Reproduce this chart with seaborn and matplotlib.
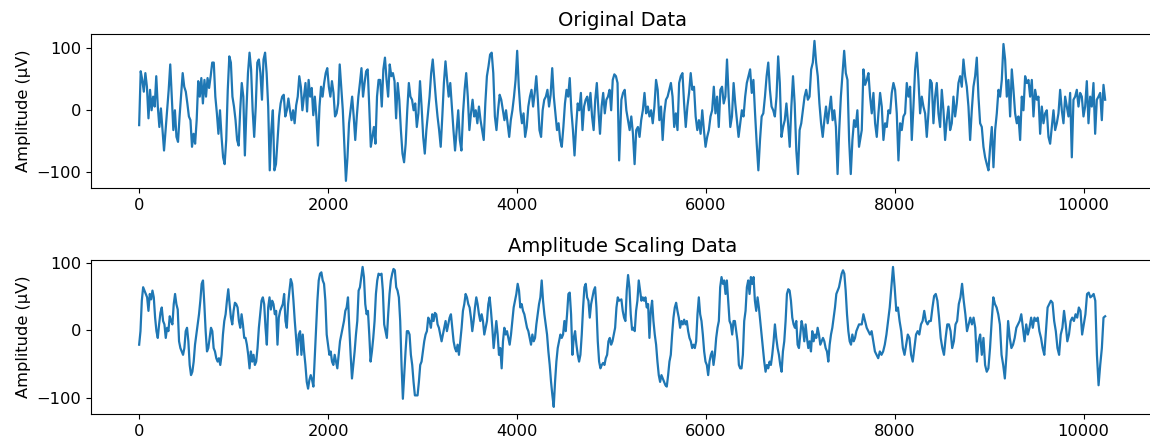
import numpy as np
import matplotlib
matplotlib.use("Agg")
import matplotlib.pyplot as plt
import seaborn as sns

# -----------------------------
# DATA (in four stretches per trace)
# -----------------------------
# sample range covered by each stretch
SEG_SPANS = [(0, 2535), (2552, 5082), (5106, 7622), (7651, 10228)]

TITLES = ["Original Data", "Amplitude Scaling Data"]
Y_LABEL = "Amplitude (µV)"

orig_seg1 = [-24, 63, 49, 30, 60, 38, -13, 33, 0, 22, 6, 55, 6, -27, 3, -32, -65, -32, 0, 33,
             74, 22, -32, 0, -43, -51, -10, 25, 60, 38, 30, 11, -10, -16, -59, -38, -54, -16, 47, 22,
             52, 11, 49, 22, 52, 36, 55, 77, 77, 22, -5, -38, 0, -43, -76, -87, -48, 33, 87, 77,
             22, 6, -16, -48, -57, 0, 44, 22, -73, 0, 60, 93, 66, 0, -43, 6, 77, 82, 60, 17,
             82, 93, 60, 6, -97, -32, 0, -97, -87, -48, -10, 11, 22, 25, -10, 0, 19, 0, -16, 0,
             -21, 8, 22, 55, 38, 0, 22, 44, -2, 49, 22, 36, -8, 22, -10, -57, 6, 38, 22, 44,
             60, 68, 38, 22, 47, 28, -10, -5, 11, 74, 36, 0, -59, -114, -76, -21, 0, 22, -10, -48,
             -10, 22, 44, 68, 22, 44, 63, 66, 6, -59, -43, -27, -54, 22, 49]

orig_seg2 = [49, 6, 66, 85, 49, 22, 74, 55, 60, 47, -13, 44, 17, -32, -70, -84, -54, 0, 44, 22,
             17, 0, 11, -27, -5, 47, 6, -43, -70, -32, -5, 22, 60, 82, 49, 17, -10, -32, -59, -10,
             44, 79, 49, 22, 44, 6, -32, -65, -32, 0, -48, -65, -5, 33, 60, 22, -32, -5, 17, -10,
             0, -21, 6, -16, -32, -48, 11, 55, 71, 90, 93, 60, -10, -32, 0, 25, 17, 0, -16, 0,
             -21, -43, -16, 0, 22, 49, 96, 38, 0, -21, -5, -43, -27, 6, 22, 33, 6, 28, 55, 17,
             -32, -43, 0, 17, 22, 33, 6, 25, 68, 22, -5, -32, -21, -48, -59, -27, 11, 33, 22, 52,
             0, -32, -73, -27, 11, 0, 28, -32, 6, 17, 22, 0, 28, -10, -32, 17, 44, 0, -38, 6,
             28, -5, 17, 22, 33, 0, 49, 58, 55, 44, -81]

orig_seg3 = [17, 28, 33, 0, -16, -32, -10, -38, -87, -32, -27, -43, -16, 0, 28, -5, 6, -10, 0, -21,
             6, 49, 33, -16, 6, -48, -5, 17, 22, 33, 44, 22, -27, -5, -32, 44, 55, 60, 11, -27,
             6, 28, 60, 33, 38, -10, -32, -16, -38, 0, -32, -59, -43, -32, -10, 0, 38, -5, 22, -27,
             33, 38, 11, 22, 82, 22, -27, -10, 44, 11, -16, -43, -21, 0, -10, 22, 44, 55, 66, 28,
             49, -5, -54, -97, -48, -10, -5, 22, 55, 77, 33, 6, 0, -10, 22, 87, 44, -43, -27, -16,
             11, -21, -59, 6, 55, 11, -65, -103, -32, -21, 0, 22, 33, 17, 22, 66, 77, 112, 77, 55,
             11, -21, -43, -16, 6, -21, 0, 22, -16, 0, -27, -103, -32, 22, 60, 96, 60, 49, -48, -103,
             -48, -16, -27, 0, -59]

orig_seg4 = [-32, 66, 41, 49, 60, 22, -5, 28, -21, -43, -5, 28, 6, -48, -21, -27, 0, -5, 28, 44,
             33, -5, -81, -21, -32, -10, -5, 44, 22, 38, -48, 6, 66, 93, 49, -5, 22, 6, -5, -43,
             -5, 49, 44, -21, 22, 44, -5, -27, 33, 0, -48, -16, 6, -32, -21, 22, -10, 11, 44, 55,
             38, 82, 55, 38, 6, -48, 0, 38, 55, 85, 22, -21, -27, -59, -76, -87, -97, -59, -27, -92,
             -32, -5, 33, 22, 49, 107, 82, 22, 49, -10, 66, 33, -5, -21, -10, -48, 22, 0, 55, 44,
             49, 22, 49, -10, 33, 17, 22, -38, 6, -21, -5, 0, -43, -54, -27, 0, -32, -21, -5, 33,
             0, -21, 22, 6, -10, 28, -76, 17, 22, 33, 6, 28, 22, -10, 6, 47, -21, 22, 6, 44,
             -38, 17, 22, 28, -16, 41, 17]

scaled_seg1 = [-21, -1, 44, 64, 59, 54, 49, 29, 54, 46, 59, 49, 19, -1, -11, 9, 26, 34, 14, 9,
               -11, 4, -1, 21, 14, 9, 39, 54, 39, 31, -16, -26, -31, -36, -26, -1, 4, -16, -51, -66,
               -61, -46, -21, -6, 9, 24, 44, 69, 74, 39, -1, -31, -26, -11, 4, -1, -26, -31, -41, -46,
               -41, -51, -36, -6, 14, 24, 44, 61, 39, 19, 9, 29, 41, 39, 34, 14, 4, 24, 9, -11,
               -11, -21, -36, -56, -31, -46, -36, -51, -46, -26, 4, 24, 44, 49, 39, 4, -21, 34, 49, 31,
               44, 39, 24, 29, -21, 19, 29, 34, 39, 54, 14, 4, 39, 59, 76, 69, 44, 14, -11, -36,
               -6, -1, -36, -6, -31, -51, -76, -86, -73, -66, -73, -83, -41, 4, 44, 74, 84, 86, 74, 69,
               44, -6, -21, -36, -31, -46, -51, -36, -46, -56, -36, -16, -6, 4, 14, 29, 34, 49, 4, -36,
               -71, -51, -31, -6, 14, 59, 64, 79, 94, 79, 39, 24, 29, -6, -46, -31, -11, 14, 54, 74,
               84]

scaled_seg2 = [82, 84, 59, 9, -1, -11, 24, 54, 74, 84, 91, 89, 64, 59, 49, 14, -51, -101, -66, -31,
               -1, -1, -6, -36, -51, -76, -96, -96, -96, -76, -51, -46, -31, -16, -6, -1, 19, 14, 4, 24,
               14, 26, 24, 9, 4, -6, -16, -6, 4, 14, -1, 9, 19, 24, 4, -16, -26, -31, -21, -36,
               -16, 4, 29, 39, 54, 49, 39, 34, 19, -1, 14, 34, 49, 39, 24, 14, 24, 14, -6, 4,
               14, 39, 49, 29, 4, -26, -6, 14, -6, -36, -26, -56, -16, 4, -6, -1, -11, -21, -6, 14,
               34, 44, 54, 69, 59, 34, 39, 29, 24, 14, 4, -1, -11, -21, -6, -16, -11, 9, 24, 39,
               49, 74, 44, 24, 9, -6, -31, -51, -76, -96, -113, -76, -46, -26, -16, -6, -11, -6, 14, -1,
               24, 54, 56, 24, -36, -11, -1, -21, -36, -46, -36, -6, 34, 64, 69, 49, 44, 19, 39, 49,
               59, 64, 34, -16, -46, -56, -51, -48, -51, -41, -36, -16, -11, -21, -16, -6, 4, 34, 49, 44]

scaled_seg3 = [46, 29, 19, 14, 59, 82, 64, 24, 1, 4, -1, 29, 44, 74, 59, 44, 49, 44, 49, 34,
               39, -11, 29, 44, 14, -6, -21, -46, -66, -76, -66, -71, -76, -81, -83, -66, -46, -36, -6, 19,
               34, 41, 29, 19, 4, 14, 9, 16, 9, 14, -1, -11, -16, -26, -21, -26, -16, 24, 49, 24,
               14, -6, -31, -46, -51, -66, -46, -36, -31, -51, -36, -11, 4, 14, 64, 79, 69, 74, 54, 74,
               44, 14, 9, -6, 14, 14, -1, -16, -51, -56, -56, -36, 14, 29, 64, 74, 54, 79, 69, 79,
               44, 29, 49, 34, 14, -6, -26, -46, -61, -51, -56, -46, -51, -36, -16, 9, -11, -26, -36, -51,
               -61, -31, -16, 14, 54, 61, 59, 44, 19, 9, 4, 14, -21, -26, -6, 14, 4, -16, 9, -11,
               -26, -16, -31, -1, -16, -6, -11, 4, -6, -21, -16, -11, -16, -26, -31, -46, -21, -6, 4, 19,
               34, 54, 59, 64, 74, 84, 89, 84, 59, 24, -1, -16, -21, -6, -16, -11, -1, 4, 9]

scaled_seg4 = [9, 24, 14, 4, -1, -6, -1, -16, -31, -36, -41, -31, -36, -31, -21, -6, 14, 34, 64, 94,
               64, 29, 34, 14, -1, -26, -36, -21, -6, -11, -36, -46, -26, -6, -1, -6, 9, 14, 29, 14,
               9, 14, 14, 34, 51, 54, 44, 19, -11, -26, -36, -11, 9, 9, -1, -26, -16, 9, 14, 39,
               49, 69, 44, 24, -1, 9, 19, 9, 19, 4, -46, -16, -6, -36, -11, -51, -61, -56, -26, 14,
               49, 39, 34, 24, 9, -36, -51, -71, -36, 14, -11, -26, -21, -11, 4, 9, 14, 24, 4, -16,
               9, -6, 4, 19, 4, 19, 14, 19, -1, -11, -26, -36, -1, 34, 39, 44, 41, 14, -1, -26,
               -36, -6, 4, 29, 9, -16, -6, 14, 19, 14, 24, 19, 34, 29, -6, 9, 24, 54, 56, 49,
               51, 54, 44, -36, -81, -51, -26, 19, 21]

ORIG = [orig_seg1, orig_seg2, orig_seg3, orig_seg4]
SCALED = [scaled_seg1, scaled_seg2, scaled_seg3, scaled_seg4]


def build(segs):
    t = np.concatenate([np.linspace(a, b, len(s)) for (a, b), s in zip(SEG_SPANS, segs)])
    v = np.concatenate([np.asarray(s, dtype=float) for s in segs])
    return t, v


# -----------------------------
# PLOT
# -----------------------------
plt.rcParams["font.size"] = 11.7

fig, axes = plt.subplots(2, 1, figsize=(11.5, 4.46), dpi=100)
fig.subplots_adjust(left=0.079, right=1.003, top=0.924, bottom=0.072, hspace=0.468)

for ax, segs, title in zip(axes, [ORIG, SCALED], TITLES):
    t, v = build(segs)
    sns.lineplot(x=t, y=v, ax=ax, color="#1f77b4", linewidth=1.6, estimator=None)
    ax.set_title(title)
    ax.set_ylabel(Y_LABEL)
    ax.set_xlabel("")

fig.savefig("out.png", dpi=100)
